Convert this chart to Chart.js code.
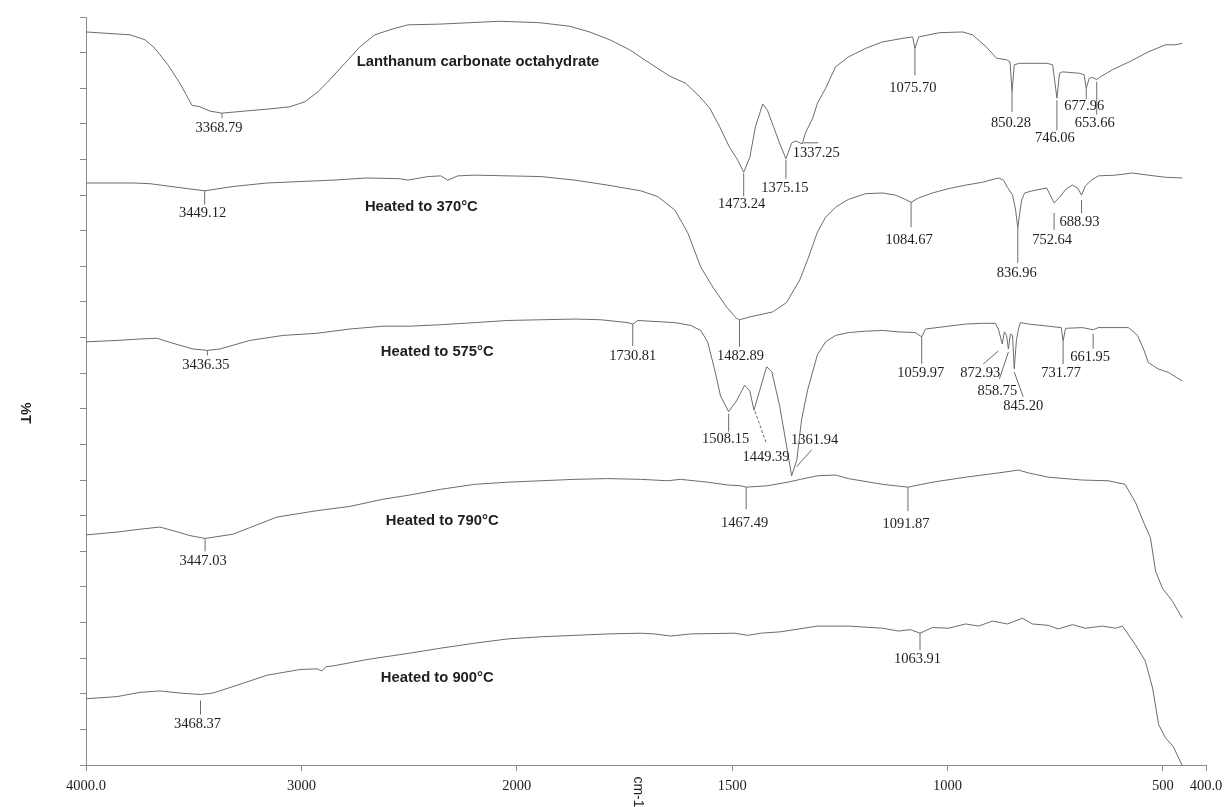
<!DOCTYPE html>
<html>
<head>
<meta charset="utf-8">
<title>FTIR spectra of lanthanum carbonate octahydrate</title>
<script src="https://cdn.jsdelivr.net/npm/chart.js@4.4.1/dist/chart.umd.min.js"></script>
<style>
  html, body { margin: 0; padding: 0; background: #ffffff; }
  canvas { display: block; }
</style>
</head>
<body>
<canvas id="ftir" width="1226" height="807"></canvas>
<script>
// ---- Data: [wavenumber (cm-1), offset %T] ----
const X_TICKS = [4000, 3000, 2000, 1500, 1000, 500, 400];
const X_TICK_LABELS = ['4000.0', '3000', '2000', '1500', '1000', '500', '400.0'];

const SERIES_NAMES = [
  'Lanthanum carbonate octahydrate',
  'Heated to 370°C',
  'Heated to 575°C',
  'Heated to 790°C',
  'Heated to 900°C'
];

const lanthanumCarbonate = [
  [4000,102.9],[3796,102.5],[3726,101.8],[3680,100.6],[3620,98.3],[3564,95.7],[3508,92.6],
  [3471,92.4],[3425,91.8],[3368.79,91.5],[3262,91.8],[3146,92.1],[3053,92.4],[2984,93.1],
  [2923,94.5],[2868,96.2],[2798,98.5],[2729,100.8],[2659,102.5],[2589,103.2],[2506,103.9],
  [2357,104.0],[2218,104.2],[2079,104.4],[1993,104.3],[1947,104.2],[1877,103.7],[1831,102.9],
  [1784,101.8],[1738,100.4],[1691,98.5],[1645,96.7],[1608,95.7],[1575,93.8],[1552,92.2],
  [1529,89.6],[1506,86.7],[1487,84.9],[1473.24,83.2],[1459,85.3],[1446,89.6],[1429,92.8],
  [1418,91.9],[1404,89.6],[1390,87.3],[1375.15,85.1],[1362,87.3],[1353,87.6],[1337.25,87.2],
  [1330,88.7],[1313,90.8],[1302,92.9],[1283,95.0],[1260,98.0],[1230,99.4],[1190,100.6],
  [1151,101.5],[1104,102.0],[1081,102.2],[1075.70,100.6],[1067,102.2],[1019,102.8],[965,102.9],
  [942,102.5],[910,100.8],[886,99.2],[863,99.0],[855,98.7],[850.28,94.5],[845,98.3],[833,98.5],
  [770,98.5],[756,98.3],[746.06,93.6],[740,97.1],[733,97.3],[694,97.1],[683,96.9],[677.96,95.0],
  [671,96.4],[663,96.5],[653.66,96.2],[645,96.6],[617,97.6],[578,98.7],[534,100.1],[494,101.1],
  [471,101.1],[455,101.3]
];

const heated370 = [
  [4000,81.7],[3782,81.7],[3703,81.6],[3578,81.1],[3449.12,80.6],[3318,81.2],[3160,81.7],
  [3007,81.9],[2854,82.1],[2696,82.4],[2543,82.3],[2506,82.1],[2413,82.6],[2353,82.7],
  [2320,82.1],[2274,82.7],[2195,82.8],[2042,82.7],[1944,82.6],[1865,82.1],[1789,81.4],
  [1712,80.6],[1673,79.8],[1633,77.9],[1603,74.7],[1573,69.9],[1545,67.1],[1513,64.3],
  [1490,62.7],[1482.89,62.5],[1459,62.9],[1406,63.6],[1374,64.9],[1343,68.1],[1325,70.9],
  [1302,74.8],[1283,76.9],[1260,78.3],[1230,79.4],[1190,80.2],[1151,80.3],[1121,80.0],
  [1098,79.4],[1084.67,79.0],[1067,79.6],[1035,80.3],[998,80.9],[958,81.4],[919,81.8],
  [882,82.4],[870,82.1],[861,81.1],[849,80.0],[842,77.9],[836.96,75.4],[833,77.2],[828,79.3],
  [821,80.3],[803,80.6],[770,81.0],[759,79.7],[752.64,78.9],[740,79.7],[724,80.9],[710,81.4],
  [698,81.0],[688.93,80.0],[680,81.3],[666,82.1],[650,82.7],[610,82.8],[571,83.1],[534,82.8],
  [494,82.5],[455,82.4]
];

const heated575 = [
  [4000,59.4],[3856,59.6],[3749,59.8],[3671,59.9],[3596,59.2],[3504,58.4],[3436.35,58.2],
  [3378,58.4],[3239,59.6],[3086,60.3],[2928,60.6],[2775,61.2],[2622,61.6],[2497,61.6],
  [2353,61.8],[2195,62.1],[2042,62.4],[1944,62.5],[1865,62.6],[1805,62.5],[1742,62.1],
  [1730.81,61.9],[1719,62.4],[1633,62.1],[1596,61.7],[1573,61.0],[1557,59.4],[1541,55.6],
  [1527,51.8],[1508.15,49.6],[1490,51.1],[1471,53.3],[1459,52.5],[1449.39,49.8],[1436,52.6],
  [1420,55.9],[1408,55.2],[1390,50.5],[1374,44.9],[1361.94,40.6],[1350,42.8],[1339,48.4],
  [1325,52.6],[1302,57.6],[1283,59.4],[1260,60.3],[1230,60.7],[1190,60.9],[1151,61.0],
  [1114,60.8],[1075,60.7],[1059.97,60.1],[1051,61.2],[998,61.6],[958,61.9],[919,62.0],
  [889,62.0],[882,61.2],[872.93,59.1],[868,60.8],[863,60.3],[858.75,58.4],[854,60.5],
  [849,60.3],[845.20,55.6],[840,59.7],[835,61.3],[831,62.1],[812,61.9],[766,61.6],[736,61.4],
  [731.77,59.5],[726,61.3],[687,61.4],[661.95,61.1],[650,61.4],[580,61.4],[559,60.3],
  [545,58.4],[534,56.5],[511,55.6],[487,55.1],[455,53.9]
];

const heated790 = [
  [4000,32.3],[3856,32.7],[3749,33.1],[3657,33.4],[3596,32.9],[3517,32.2],[3447.03,31.8],
  [3318,32.4],[3114,34.8],[2928,35.7],[2775,36.3],[2622,37.3],[2497,37.9],[2353,38.7],
  [2195,39.4],[2042,39.7],[1944,39.9],[1865,40.1],[1789,40.2],[1712,40.1],[1650,39.9],
  [1620,40.1],[1557,39.7],[1510,39.3],[1480,39.2],[1467.49,39.0],[1418,39.2],[1371,39.7],
  [1341,40.1],[1302,40.6],[1260,40.7],[1230,40.2],[1151,39.4],[1091.87,39.0],[1035,39.7],
  [958,40.4],[882,41.0],[835,41.4],[812,41.0],[766,40.4],[687,40.0],[627,39.9],[588,39.4],
  [564,36.9],[545,34.1],[529,31.9],[517,27.2],[501,24.8],[478,23.0],[455,20.6]
];

const heated900 = [
  [4000,9.3],[3856,9.6],[3749,10.2],[3657,10.4],[3564,10.1],[3468.37,9.9],[3411,10.1],
  [3318,11.0],[3160,12.6],[3007,13.4],[2928,13.5],[2905,13.2],[2886,13.8],[2854,13.9],
  [2696,14.8],[2497,15.7],[2353,16.4],[2195,17.1],[2042,17.7],[1944,18.0],[1865,18.2],
  [1789,18.4],[1712,18.5],[1680,18.4],[1643,18.1],[1596,18.4],[1494,18.5],[1464,18.2],
  [1434,18.5],[1387,18.7],[1302,19.5],[1230,19.5],[1151,19.2],[1114,18.8],[1086,19.0],
  [1063.91,18.5],[1035,19.3],[998,19.2],[958,19.8],[928,19.5],[896,20.2],[861,19.8],
  [826,20.6],[803,19.8],[766,19.6],[743,19.1],[710,19.7],[680,19.2],[640,19.5],[610,19.2],
  [594,19.5],[564,16.9],[541,14.6],[524,10.8],[510,5.7],[494,3.8],[476,2.6],[455,-0.1]
];

// Labelled band positions (cm-1), one list per spectrum
const peaksCarbonate = [3368.79, 1473.24, 1375.15, 1337.25, 1075.70, 850.28, 746.06, 677.96, 653.66];
const peaks370 = [3449.12, 1482.89, 1084.67, 836.96, 752.64, 688.93];
const peaks575 = [3436.35, 1730.81, 1508.15, 1449.39, 1361.94, 1059.97, 872.93, 858.75, 845.20, 731.77, 661.95];
const peaks790 = [3447.03, 1467.49, 1091.87];
const peaks900 = [3468.37, 1063.91];

// ---- Layout ----
// label: [dx, dy] of the text centre from the band minimum (px)
// lead:  [x0, y0, x1, y1] leader line relative to the band minimum (px)
const PEAK_LAYOUT = {
  '3368.79': { label: [-3, 15],   lead: [0, 0, 0, 5] },
  '1473.24': { label: [-2, 32],   lead: [0, 1, 0, 24] },
  '1375.15': { label: [-1, 29],   lead: [0, 1, 0, 20] },
  '1337.25': { label: [14, 9],    lead: [1, -1, 16, -1] },
  '1075.70': { label: [-2, 40],   lead: [0, 0, 0, 27] },
  '850.28':  { label: [-1, 31],   lead: [0, 0, 0, 20] },
  '746.06':  { label: [-2, 40],   lead: [0, 2, 0, 32] },
  '677.96':  { label: [-2, 18],   lead: [0, 0, 0, 11] },
  '653.66':  { label: [-2, 43],   lead: [0, 2, 0, 35] },

  '3449.12': { label: [-2, 22],   lead: [0, 0, 0, 14] },
  '1482.89': { label: [1, 36],    lead: [0, 0, 0, 27] },
  '1084.67': { label: [-2, 38],   lead: [0, 0, 0, 25] },
  '836.96':  { label: [-1, 45],   lead: [0, 0, 0, 35] },
  '752.64':  { label: [-2, 37],   lead: [0, 10, 0, 27] },
  '688.93':  { label: [-2, 27],   lead: [0, 5, 0, 18] },

  '3436.35': { label: [-1.5, 15], lead: [0, 0, 0, 5] },
  '1730.81': { label: [0, 32],    lead: [0, 0, 0, 22] },
  '1508.15': { label: [-3, 28],   lead: [0, 2, 0, 20] },
  '1449.39': { label: [12, 47],   lead: [1, 1, 12, 32], dashed: true },
  '1361.94': { label: [23, -36],  lead: [5, -9, 20, -26] },
  '1059.97': { label: [-1, 36],   lead: [0, 0, 0, 27] },
  '872.93':  { label: [-22, 29],  lead: [-4, 7, -19, 20] },
  '858.75':  { label: [-11, 42],  lead: [0, 3, -9, 30] },
  '845.20':  { label: [9, 37],    lead: [0, 3, 9, 28] },
  '731.77':  { label: [-2, 32],   lead: [0, 0, 0, 23] },
  '661.95':  { label: [-3, 27],   lead: [0, 4, 0, 19] },

  '3447.03': { label: [-2, 23],   lead: [0, 0, 0, 13] },
  '1467.49': { label: [-1.5, 36.5], lead: [0, 0, 0, 22] },
  '1091.87': { label: [-2, 37],   lead: [0, 0, 0, 24] },

  '3468.37': { label: [-3, 30],   lead: [0, 6, 0, 20] },
  '1063.91': { label: [-2.5, 26], lead: [0, 0, 0, 17] }
};

// Left edge of each spectrum's caption, in axis units [cm-1, %T]
const CAPTION_AT = [[2743, 98.7], [2705, 78.3], [2631, 58.0], [2608, 34.2], [2631, 12.2]];

const SPECTRA = [lanthanumCarbonate, heated370, heated575, heated790, heated900];
const PEAKS = [peaksCarbonate, peaks370, peaks575, peaks790, peaks900];

const LINE_COLOR = '#6c6c6c';
const AXIS_COLOR = '#8a8a8a';
const TEXT_COLOR = '#1e1e1e';
const SERIF = '"Liberation Serif", "DejaVu Serif", serif';
const SANS = '"Liberation Sans", Arial, sans-serif';

// ---- Wavenumber axis: 4000-2000 compressed, 2000-400 expanded two-fold ----
const AXIS_START = 4000, AXIS_BREAK = 2000, AXIS_END = 400, EXPAND = 2;

class WavenumberScale extends Chart.LinearScale {
  static id = 'wavenumber';
  static defaults = {};
  offsetOf(v) {
    return v >= AXIS_BREAK ? AXIS_START - v : (AXIS_START - AXIS_BREAK) + EXPAND * (AXIS_BREAK - v);
  }
  buildTicks() {
    return X_TICKS.map(v => ({ value: v }));
  }
  getPixelForValue(v) {
    return this.left + this.width * this.offsetOf(v) / this.offsetOf(AXIS_END);
  }
  getValueForPixel(p) {
    const u = (p - this.left) / this.width * this.offsetOf(AXIS_END);
    const span = AXIS_START - AXIS_BREAK;
    return u <= span ? AXIS_START - u : AXIS_BREAK - (u - span) / EXPAND;
  }
}
Chart.register(WavenumberScale);

// Band labels with leader lines, captions and the rotated axis titles
const annotations = {
  id: 'ftirAnnotations',
  afterDatasetsDraw(chart) {
    const ctx = chart.ctx;
    const area = chart.chartArea;
    const xs = chart.scales.x, ys = chart.scales.y;
    ctx.save();
    ctx.lineWidth = 1;
    ctx.strokeStyle = LINE_COLOR;
    ctx.fillStyle = TEXT_COLOR;
    ctx.font = '14.5px ' + SERIF;
    ctx.textAlign = 'center';
    ctx.textBaseline = 'middle';
    PEAKS.forEach((peaks, di) => {
      const data = chart.data.datasets[di].data;
      peaks.forEach(wn => {
        const pt = data.find(p => p[0] === wn);
        if (!pt) return;
        const px = xs.getPixelForValue(wn);
        const py = ys.getPixelForValue(pt[1]);
        const key = wn.toFixed(2);
        const lay = PEAK_LAYOUT[key];
        const [x0, y0, x1, y1] = lay.lead;
        ctx.setLineDash(lay.dashed ? [3, 2] : []);
        ctx.beginPath();
        ctx.moveTo(px + x0, py + y0);
        ctx.lineTo(px + x1, py + y1);
        ctx.stroke();
        ctx.fillText(key, px + lay.label[0], py + lay.label[1]);
      });
    });
    ctx.setLineDash([]);

    ctx.font = 'bold 14.8px ' + SANS;
    ctx.textAlign = 'left';
    SERIES_NAMES.forEach((name, i) => {
      ctx.fillText(name, xs.getPixelForValue(CAPTION_AT[i][0]), ys.getPixelForValue(CAPTION_AT[i][1]));
    });

    // axis titles, written top-to-bottom
    ctx.textAlign = 'center';
    ctx.font = 'bold 14px ' + SANS;
    ctx.save();
    ctx.translate(25, (area.top + area.bottom) / 2 + 22);
    ctx.rotate(Math.PI / 2);
    ctx.fillText('%T', 0, 0);
    ctx.restore();

    ctx.font = '14px ' + SANS;
    ctx.save();
    ctx.translate((area.left + area.right) / 2 - 8, area.bottom + 27);
    ctx.rotate(Math.PI / 2);
    ctx.fillText('cm-1', 0, 0);
    ctx.restore();
    ctx.restore();
  }
};

new Chart(document.getElementById('ftir'), {
  type: 'line',
  data: {
    datasets: SPECTRA.map((s, i) => ({
      label: SERIES_NAMES[i],
      data: s,
      borderColor: LINE_COLOR,
      borderWidth: 1,
      pointRadius: 0,
      tension: 0,
      fill: false,
      clip: 6
    }))
  },
  options: {
    responsive: false,
    animation: false,
    events: [],
    devicePixelRatio: 1,
    layout: { padding: { left: 0, right: 20, top: 17, bottom: 0 } },
    plugins: { legend: { display: false }, tooltip: { enabled: false }, title: { display: false } },
    scales: {
      x: {
        type: 'wavenumber',
        min: AXIS_END,
        max: AXIS_START,
        afterFit(scale) {
          scale.height = 42;
          scale.paddingLeft = 0;
          scale.paddingRight = 0;
        },
        border: { display: true, color: AXIS_COLOR, width: 1 },
        grid: { display: true, drawOnChartArea: false, drawTicks: true, tickLength: 6, color: AXIS_COLOR },
        ticks: {
          autoSkip: false,
          maxRotation: 0,
          minRotation: 0,
          padding: 6,
          color: TEXT_COLOR,
          font: { family: SERIF, size: 14.5 },
          callback: (v, i) => X_TICK_LABELS[i]
        }
      },
      y: {
        type: 'linear',
        min: 0,
        max: 105,
        afterFit(scale) { scale.width = 86; },
        border: { display: true, color: AXIS_COLOR, width: 1 },
        grid: { display: true, drawOnChartArea: false, drawTicks: true, tickLength: 6, color: AXIS_COLOR },
        ticks: { display: false, stepSize: 5 }
      }
    }
  },
  plugins: [annotations]
});
</script>
</body>
</html>
